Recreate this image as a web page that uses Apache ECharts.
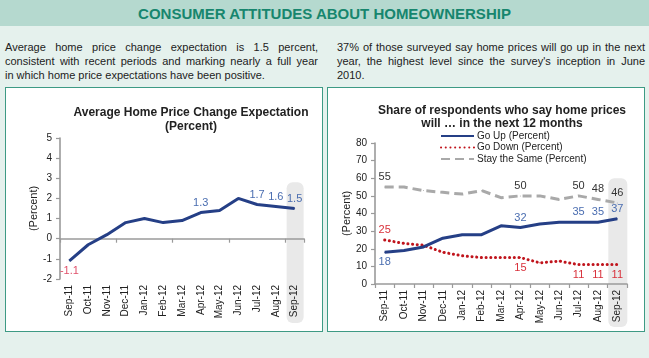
<!DOCTYPE html>
<html><head><meta charset="utf-8">
<script src="https://cdn.jsdelivr.net/npm/echarts@6/dist/echarts.min.js"></script>
<style>
html,body{margin:0;padding:0;width:649px;height:358px;overflow:hidden;background:#e5f1ed;font-family:'Liberation Sans',Arial,sans-serif;}
#band{position:absolute;left:0;top:0;width:649px;height:26px;background:#b5d9cf;}
#band div{font-size:15px;line-height:27px;text-align:center;color:#17866e;font-weight:bold;}
.para{position:absolute;top:40px;font-size:11px;line-height:14px;color:#222;}
.para .j{text-align:justify;text-align-last:justify;}
.panel{position:absolute;top:87px;width:316px;height:243px;background:#fff;border:1px solid #3d9a84;}
#chart{position:absolute;left:0;top:0;width:649px;height:358px;z-index:2;}
</style></head>
<body>
<div id="band"><div>CONSUMER ATTITUDES ABOUT HOMEOWNERSHIP</div></div>
<div class="para" style="left:5px;width:313px;">
<div class="j">Average home price change expectation is 1.5 percent,</div>
<div class="j">consistent with recent periods and marking nearly a full year</div>
<div>in which home price expectations have been positive.</div>
</div>
<div class="para" style="left:337px;width:308px;">
<div class="j">37% of those surveyed say home prices will go up in the next</div>
<div class="j">year, the highest level since the survey's inception in June</div>
<div>2010.</div>
</div>
<div class="panel" style="left:5px;"></div>
<div class="panel" style="left:327px;"></div>
<div id="chart"></div>
<script>
const months = ['Sep-11','Oct-11','Nov-11','Dec-11','Jan-12','Feb-12','Mar-12','Apr-12','May-12','Jun-12','Jul-12','Aug-12','Sep-12'];
const expectation = [-1.1,-0.3,0.2,0.8,1.0,0.8,0.9,1.3,1.4,2.0,1.7,1.6,1.5];
const expLabeled = [0,7,10,11,12];
const goUp = [18,19,21,26,28,28,33,32,34,35,35,35,37];
const goDown = [25,23,22,18,16,15,15,15,12,13,11,11,11];
const staySame = [55,55,53,52,51,53,49,50,50,48,50,48,46];
const upLabeled = [0,7,10,11,12];
const downLabeled = [0,7,10,11,12];
const stayLabeled = [0,7,10,11,12];
const seriesNames = ['Go Up (Percent)','Go Down (Percent)','Stay the Same (Percent)'];

const FONT = "'Liberation Sans', Arial, sans-serif";
const BLUE_LBL = '#4a6db0', RED_LBL = '#d8303a';
const chart = echarts.init(document.getElementById('chart'));

function labeledData(vals, idx, posFn, colorFn){
  return vals.map((v,i)=>({value:v,label:{show:idx.includes(i),position:posFn(i,v),color:colorFn(i,v),distance:4,fontSize:11,fontFamily:FONT}}));
}
const AX = '#9a9a9a';
const axLine = {show:true,lineStyle:{color:AX,width:1.6}};
const axTick = {show:true,length:4,lineStyle:{color:AX,width:1.2}};
const lbl = {fontSize:10,color:'#222',fontFamily:FONT};

const option = {
  animation:false,
  textStyle:{fontFamily:FONT},
  title:[
    {text:'Average Home Price Change Expectation\n(Percent)',left:186,top:101,textAlign:'center',
     textStyle:{fontSize:12,fontWeight:'bold',color:'#222',lineHeight:14,fontFamily:FONT}},
    {text:'Share of respondents who say home prices\nwill \u2026 in the next 12 months',left:497,top:99,textAlign:'center',
     textStyle:{fontSize:12,fontWeight:'bold',color:'#222',lineHeight:13,fontFamily:FONT}}
  ],
  legend:{orient:'vertical',left:435,top:126,itemGap:1.5,itemWidth:33,itemHeight:11,
    itemStyle:{opacity:0},
    data:seriesNames,textStyle:{fontSize:10,color:'#222',fontFamily:FONT,padding:[0,0,0,-2]}},
  grid:[
    {left:60,right:345,top:138,bottom:79},
    {left:375,right:22,top:143,bottom:74}
  ],
  xAxis:[
    {gridIndex:0,type:'category',data:months,boundaryGap:true,position:'bottom',
      axisLine:{show:false,onZero:false},axisTick:{show:false},splitLine:{show:false},
      axisLabel:Object.assign({rotate:90,interval:0,margin:6},lbl)},
    {gridIndex:1,type:'category',data:months,boundaryGap:true,position:'bottom',
      axisLine:axLine,axisTick:axTick,splitLine:{show:false},
      axisLabel:Object.assign({rotate:90,interval:0,margin:6},lbl)},
    {gridIndex:0,type:'category',data:months,boundaryGap:true,position:'bottom',
      axisLine:{show:true,onZero:true,lineStyle:{color:AX,width:1.6}},axisTick:axTick,splitLine:{show:false},
      axisLabel:{show:false}}
  ],
  yAxis:[
    {gridIndex:0,type:'value',min:-2,max:5,interval:1,axisLine:axLine,axisTick:axTick,splitLine:{show:false},
      axisLabel:lbl,name:'(Percent)',nameLocation:'middle',nameGap:20,nameRotate:90,
      nameTextStyle:{fontSize:11,color:'#222',fontFamily:FONT}},
    {gridIndex:1,type:'value',min:0,max:80,interval:10,axisLine:axLine,axisTick:axTick,splitLine:{show:false},
      axisLabel:lbl,name:'(Percent)',nameLocation:'middle',nameGap:22,nameRotate:90,
      nameTextStyle:{fontSize:11,color:'#222',fontFamily:FONT}}
  ],
  series:[
    {type:'line',xAxisIndex:0,yAxisIndex:0,symbol:'circle',symbolSize:1,showSymbol:true,z:5,
     lineStyle:{color:'#253f86',width:3},itemStyle:{color:'#253f86'},
     data:labeledData(expectation,expLabeled,(i,v)=>v<0?'bottom':'top',(i,v)=>v<0?'#e0506a':BLUE_LBL)},
    {name:seriesNames[0],type:'line',xAxisIndex:1,yAxisIndex:1,symbol:'circle',symbolSize:1,showSymbol:true,z:5,
     lineStyle:{color:'#253f86',width:3},itemStyle:{color:'#253f86'},
     data:labeledData(goUp,upLabeled,(i)=>i===0?'bottom':'top',()=>BLUE_LBL)},
    {name:seriesNames[1],type:'line',xAxisIndex:1,yAxisIndex:1,symbol:'circle',symbolSize:1,showSymbol:true,z:4,
     lineStyle:{color:'#c0141c',width:3,type:[0.1,4.6],cap:'round'},itemStyle:{color:'#c0141c'},
     data:labeledData(goDown,downLabeled,(i)=>i===0?'top':'bottom',()=>RED_LBL)},
    {name:seriesNames[2],type:'line',xAxisIndex:1,yAxisIndex:1,symbol:'circle',symbolSize:1,showSymbol:true,z:3,
     lineStyle:{color:'#a9a9a9',width:3,type:[9,5]},itemStyle:{color:'#a9a9a9'},
     data:labeledData(staySame,stayLabeled,()=>'top',()=>'#333')}
  ]
};
chart.setOption(option);

// highlight band behind the last category in each panel
const last = months[months.length-1];
const p0 = chart.convertToPixel({gridIndex:0},[last,2.8]);
const p1 = chart.convertToPixel({gridIndex:1},[last,60]);
chart.setOption({graphic:[
  {type:'rect',z:-1,silent:true,shape:{x:p0[0]-8,y:p0[1],width:17,height:323-p0[1],r:6},style:{fill:'#e9e9e9'}},
  {type:'rect',z:-1,silent:true,shape:{x:p1[0]-9,y:p1[1],width:19,height:327-p1[1],r:6},style:{fill:'#e9e9e9'}}
]});
</script>
</body></html>
